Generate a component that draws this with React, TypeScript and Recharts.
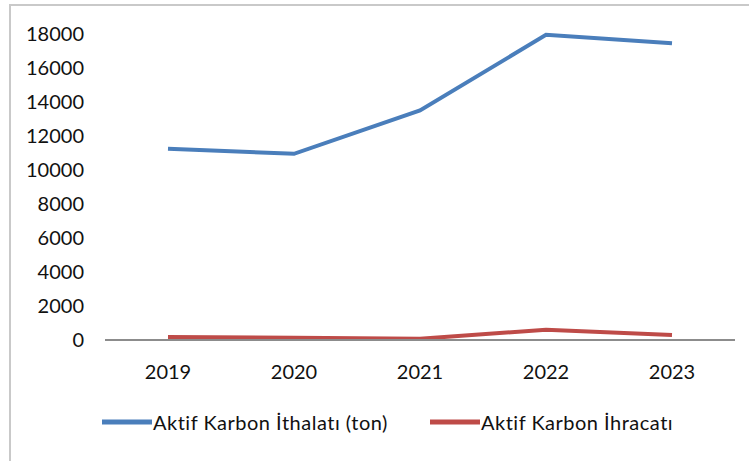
import { LineChart, Line, XAxis, YAxis, Legend } from "recharts"

const years = ["2019", "2020", "2021", "2022", "2023"]
const ithalat = [11250, 10950, 13500, 17950, 17450]
const ihracat = [180, 130, 80, 600, 300]
const yTicks = [0, 2000, 4000, 6000, 8000, 10000, 12000, 14000, 16000, 18000]

const seriesNames = ["Aktif Karbon İthalatı (ton)", "Aktif Karbon İhracatı"]
const seriesColors = ["#4A7EBB", "#BE4B48"]

const chartData = years.map((year, i) => ({
	year,
	ithalat: ithalat[i],
	ihracat: ihracat[i],
}))

const font = "Lato, 'Open Sans', sans-serif"

const renderLegend = () => (
	<div style={{ position: "relative", height: 30, fontFamily: font, fontSize: 20, letterSpacing: 0.5, color: "#111" }}>
		{seriesNames.map((name, i) => (
			<div
				key={name}
				style={{ position: "absolute", left: i === 0 ? 102 : 430, top: 0, display: "flex", alignItems: "center" }}
			>
				<svg width={50} height={10}>
					<line x1={0} y1={5} x2={50} y2={5} stroke={seriesColors[i]} strokeWidth={5} />
				</svg>
				<span style={{ marginLeft: 1 }}>{name}</span>
			</div>
		))}
	</div>
)

export default function App() {
	return (
		<div style={{ position: "absolute", left: 0, top: 0, width: 749, height: 461, background: "#fff", overflow: "hidden" }}>
			<div
				style={{
					position: "absolute",
					left: 9,
					top: 4,
					width: 800,
					height: 500,
					borderLeft: "2px solid #c9c9c9",
					borderTop: "2px solid #c9c9c9",
				}}
			/>
			<div style={{ position: "absolute", left: 0, top: 0 }}>
				<LineChart width={749} height={461} data={chartData} margin={{ top: 34, right: 14, left: 0, bottom: 51 }}>
					<XAxis
						dataKey="year"
						height={40}
						padding={{ left: 63, right: 63 }}
						axisLine={{ stroke: "#8c8c8c", strokeWidth: 2 }}
						tickLine={false}
						tickMargin={19}
						tick={{ fill: "#111", fontFamily: font, fontSize: 20 }}
					/>
					<YAxis
						width={105}
						domain={[0, 18000]}
						ticks={yTicks}
						axisLine={false}
						tickLine={false}
						tickMargin={15}
						tick={{ fill: "#111", fontFamily: font, fontSize: 20 }}
					/>
					<Line
						dataKey="ithalat"
						stroke={seriesColors[0]}
						strokeWidth={4}
						dot={false}
						isAnimationActive={false}
					/>
					<Line
						dataKey="ihracat"
						stroke={seriesColors[1]}
						strokeWidth={4}
						dot={false}
						isAnimationActive={false}
					/>
					<Legend content={renderLegend} wrapperStyle={{ left: 0, top: 410, width: 749 }} />
				</LineChart>
			</div>
		</div>
	)
}
